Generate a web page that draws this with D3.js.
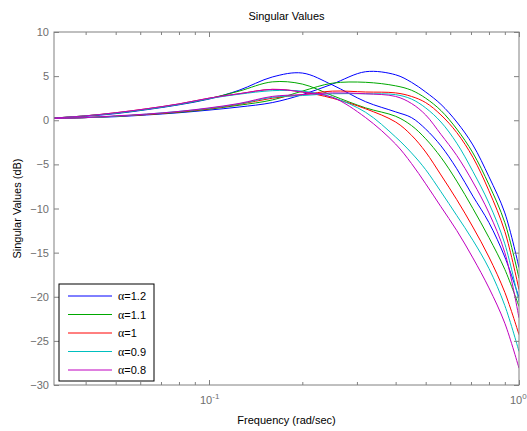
<!DOCTYPE html>
<html lang="en">
<head>
<meta charset="UTF-8">
<title>Singular Values</title>
<script src="https://cdn.jsdelivr.net/npm/d3@7"></script>
<style>
  body { margin: 0; background: #fff; }
  text { font-family: "Liberation Sans", Arial, sans-serif; }
</style>
</head>
<body>
<div id="chart"></div>
<script>
const freqs = [0.0316, 0.04, 0.05, 0.063, 0.08, 0.1, 0.125, 0.16, 0.2, 0.25,
               0.32, 0.4, 0.45, 0.5, 0.56, 0.63, 0.71, 0.8, 0.9, 1.0];

// singular values (dB), two per alpha: early peak (E) and late peak (L)
const blueE   = [0.25, 0.45, 0.75, 1.2, 1.75, 2.4, 3.4, 4.9, 5.35, 4.0, 2.1, 0.95, 0.3, -1.0, -2.9, -5.5, -8.6, -11.6, -15.5, -20.1];
const blueL   = [0.2, 0.3, 0.4, 0.6, 0.85, 1.15, 1.5, 2.0, 2.9, 4.1, 5.5, 5.15, 4.3, 3.2, 1.8, -0.2, -2.8, -6.4, -10.5, -16.7];
const greenE  = [0.25, 0.5, 0.8, 1.25, 1.8, 2.45, 3.3, 4.35, 4.1, 2.8, 1.4, 0.45, -0.6, -2.1, -4.2, -6.9, -10.0, -13.3, -16.9, -21.1];
const greenL  = [0.2, 0.3, 0.45, 0.65, 0.9, 1.25, 1.7, 2.3, 3.3, 4.2, 4.3, 3.9, 3.4, 2.5, 1.1, -1.0, -3.7, -7.3, -11.6, -17.9];
const redE    = [0.25, 0.5, 0.85, 1.3, 1.85, 2.5, 3.0, 3.5, 3.2, 2.5, 1.3, -0.2, -1.7, -3.6, -6.2, -9.0, -12.1, -15.5, -19.5, -24.3];
const redL    = [0.2, 0.3, 0.45, 0.65, 0.95, 1.3, 1.8, 2.5, 2.9, 3.3, 3.2, 3.1, 2.7, 2.0, 0.6, -1.4, -4.2, -8.0, -12.6, -19.2];
const cyanE   = [0.25, 0.5, 0.8, 1.25, 1.8, 2.45, 2.95, 3.35, 3.3, 2.6, 0.9, -1.9, -3.7, -5.6, -8.1, -10.8, -13.6, -16.8, -21.0, -26.2];
const cyanL   = [0.2, 0.3, 0.45, 0.7, 1.0, 1.35, 1.85, 2.6, 2.8, 3.0, 3.0, 2.9, 2.4, 1.4, -0.2, -2.6, -5.8, -9.4, -14.0, -20.6];
const purpleE = [0.25, 0.5, 0.85, 1.3, 1.85, 2.5, 3.0, 3.5, 3.2, 2.6, 0.3, -2.7, -4.9, -7.2, -9.8, -12.5, -15.6, -19.0, -23.0, -28.1];
const purpleL = [0.2, 0.3, 0.5, 0.7, 1.0, 1.4, 1.9, 2.7, 2.9, 3.1, 3.0, 2.7, 1.9, 0.6, -1.6, -4.0, -7.0, -10.5, -15.0, -22.4];

const alphas = ["1.2", "1.1", "1", "0.9", "0.8"];
const colors = ["#0000ff", "#00a800", "#ff0000", "#00bfbf", "#bf00bf"];
const seriesE = [blueE, greenE, redE, cyanE, purpleE];
const seriesL = [blueL, greenL, redL, cyanL, purpleL];

const yTicks = [-30, -25, -20, -15, -10, -5, 0, 5, 10];
const xMajor = [0.1, 1];
const xMinor = [0.04, 0.05, 0.06, 0.07, 0.08, 0.09, 0.2, 0.3, 0.4, 0.5, 0.6, 0.7, 0.8, 0.9];
const xLabels = [{v: 0.1, exp: "-1"}, {v: 1, exp: "0"}];

// layout
const W = 527, H = 431;
const L = 54, R = 519, T = 32, B = 385;
const axisGray = "#808080";

const svg = d3.select("#chart").append("svg")
    .attr("width", W).attr("height", H);

const x = d3.scaleLog().domain([Math.pow(10, -1.5), 1]).range([L, R]);
const y = d3.scaleLinear().domain([-30, 10]).range([B, T]);

svg.append("rect")
    .attr("x", L).attr("y", T).attr("width", R - L).attr("height", B - T)
    .attr("fill", "#fff");

svg.append("clipPath").attr("id", "clip")
    .append("rect").attr("x", L).attr("y", T).attr("width", R - L).attr("height", B - T);

// curves
const line = d3.line()
    .x((d, i) => x(freqs[i]))
    .y(d => y(d))
    .curve(d3.curveCatmullRom.alpha(0.5));

const plot = svg.append("g").attr("clip-path", "url(#clip)");
alphas.forEach((a, k) => {
    [seriesE[k], seriesL[k]].forEach(s => {
        plot.append("path")
            .attr("d", line(s))
            .attr("fill", "none")
            .attr("stroke", colors[k])
            .attr("stroke-width", 1);
    });
});

// axes (ticks point inward, MATLAB-style box)
function styleAxis(g) {
    g.select(".domain").remove();
    g.selectAll(".tick line").attr("stroke", axisGray);
    g.selectAll(".tick text").attr("fill", "#6e6e6e")
        .style("font-family", "Liberation Sans, Arial, sans-serif")
        .style("font-size", "11px");
}

svg.append("g").attr("transform", `translate(${L},0)`)
    .call(d3.axisLeft(y).tickValues(yTicks).tickSize(-5).tickPadding(5).tickFormat(d3.format("d")))
    .call(styleAxis);
svg.append("g").attr("transform", `translate(${R},0)`)
    .call(d3.axisRight(y).tickValues(yTicks).tickSize(-5).tickFormat(""))
    .call(styleAxis);

[[xMinor, 3], [xMajor, 5]].forEach(([vals, len]) => {
    svg.append("g").attr("transform", `translate(0,${B})`)
        .call(d3.axisBottom(x).tickValues(vals).tickSize(-len).tickFormat(""))
        .call(styleAxis);
    svg.append("g").attr("transform", `translate(0,${T})`)
        .call(d3.axisTop(x).tickValues(vals).tickSize(-len).tickFormat(""))
        .call(styleAxis);
});

// x tick labels with exponent
xLabels.forEach(d => {
    const t = svg.append("text")
        .attr("x", x(d.v) - 9).attr("y", B + 19)
        .attr("fill", "#6e6e6e")
        .style("font-size", "11px");
    t.append("tspan").text("10");
    t.append("tspan").attr("dy", -5).style("font-size", "8px").text(d.exp);
});

// frame
svg.append("rect")
    .attr("x", L).attr("y", T).attr("width", R - L).attr("height", B - T)
    .attr("fill", "none").attr("stroke", axisGray).attr("stroke-width", 1);

// titles
svg.append("text")
    .attr("x", (L + R) / 2).attr("y", 20)
    .attr("text-anchor", "middle")
    .style("font-size", "11px")
    .text("Singular Values");

svg.append("text")
    .attr("x", (L + R) / 2).attr("y", 424)
    .attr("text-anchor", "middle")
    .style("font-size", "11px")
    .text("Frequency (rad/sec)");

svg.append("text")
    .attr("transform", `translate(21,${(T + B) / 2}) rotate(-90)`)
    .attr("text-anchor", "middle")
    .style("font-size", "11px")
    .text("Singular Values (dB)");

// legend
const lg = svg.append("g").attr("transform", "translate(59,284)");
lg.append("rect")
    .attr("width", 95).attr("height", 97)
    .attr("fill", "#fff").attr("stroke", "#000").attr("stroke-width", 1);

alphas.forEach((a, k) => {
    const ry = 12 + k * 18.5;
    lg.append("line")
        .attr("x1", 9).attr("x2", 53).attr("y1", ry).attr("y2", ry)
        .attr("stroke", colors[k]).attr("stroke-width", 1);
    const t = lg.append("text")
        .attr("x", 59).attr("y", ry + 4)
        .style("font-size", "11px");
    t.append("tspan").style("font-family", "Liberation Serif, serif").style("font-size", "12px").text("α");
    t.append("tspan").text("=" + a);
});
</script>
</body>
</html>
